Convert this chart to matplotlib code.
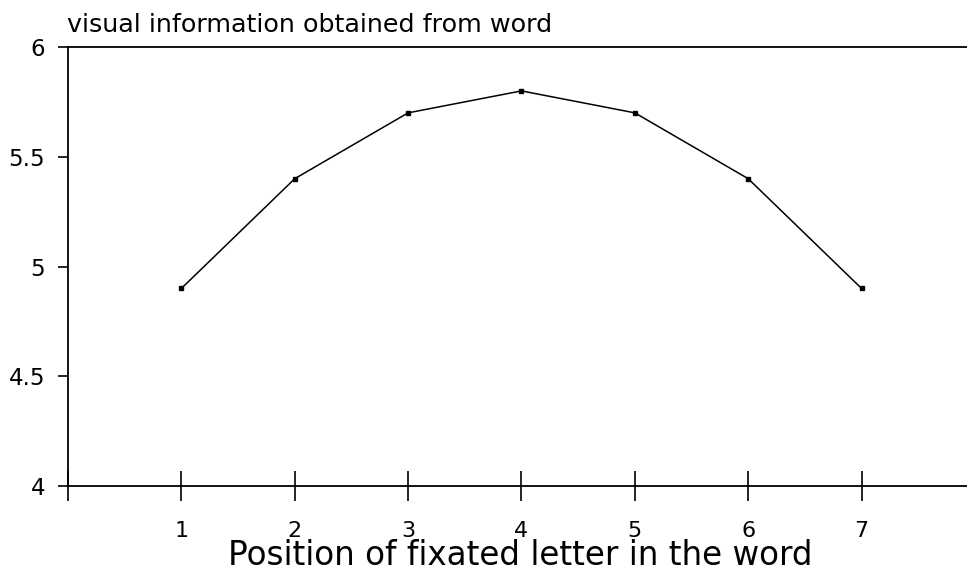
import matplotlib
matplotlib.use("Agg")
import matplotlib.pyplot as plt

positions = [1, 2, 3, 4, 5, 6, 7]
info = [4.9, 5.4, 5.7, 5.8, 5.7, 5.4, 4.9]
xtick_labels = ["", "1", "2", "3", "4", "5", "6", "7"]
ytick_vals = [4, 4.5, 5, 5.5, 6]
ytick_labels = ["4", "4.5", "5", "5.5", "6"]
title = "visual information obtained from word"
xlabel = "Position of fixated letter in the word"

plt.rcParams['font.family'] = ['DejaVu Sans']
fig = plt.figure(figsize=(9.67, 5.75), dpi=100)
ax = fig.add_axes([68/967, 1-486/575, 1-68/967, (486-47)/575])
ax.plot(positions, info, color='black', lw=1.1, marker='s', ms=3.5, mfc='black', mec='black')
ax.set_xlim(0, 7.93)
ax.set_ylim(4, 6)
ax.set_xticks(range(0, 8))
ax.set_xticklabels(xtick_labels, fontsize=16)
ax.set_yticks(ytick_vals)
ax.set_yticklabels(ytick_labels, fontsize=16.5)
ax.tick_params(axis='x', direction='inout', length=22, width=1.2, pad=14)
ax.tick_params(axis='y', direction='out', length=7.5, width=1.2, pad=9)
for s in ['top', 'left', 'bottom']:
    ax.spines[s].set_linewidth(1.3)
ax.spines['right'].set_visible(False)
fig.text(67/967, 1-32/575, title, fontsize=18.3, ha='left', va='baseline')
fig.text(520/967, 1-565/575, xlabel, fontsize=23.5, ha='center', va='baseline')
fig.savefig("out.png", dpi=100)
